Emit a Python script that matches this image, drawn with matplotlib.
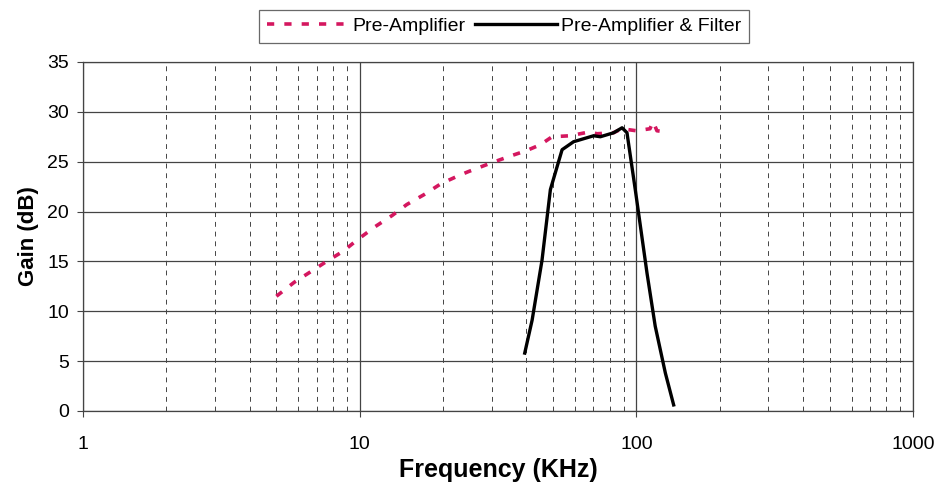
import numpy as np
import matplotlib.pyplot as plt
from matplotlib.ticker import FixedLocator, NullFormatter

plt.rcParams['font.family'] = ['Liberation Sans', 'DejaVu Sans']

# Pre-Amplifier (dashed pink)
f_pre = [5.0, 5.8, 6.6, 7.6, 8.7, 9.85, 11.4, 13.1, 14.8, 17.1, 19.7, 22.8, 24.7,
         29.4, 34.5, 40, 45, 49.6, 57.7, 68, 72, 82.6, 88.7, 100, 112, 115, 118.7, 127]
g_pre = [11.5, 12.9, 13.9, 15.0, 16.0, 17.2, 18.5, 19.6, 20.7, 21.7, 22.8, 23.6, 24.0,
         24.8, 25.5, 26.1, 26.7, 27.5, 27.6, 28.0, 27.8, 27.9, 28.3, 28.1, 28.3, 29.0, 28.1, 28.0]

# Pre-Amplifier & Filter (solid black)
f_filt = [39.5, 42, 45.6, 48.9, 53.9, 59.3, 70.1, 74.1, 82.8, 88.8, 92.5, 99.1,
          109.3, 117, 127.3, 136.4]
g_filt = [5.8, 9.1, 15.1, 22.2, 26.2, 27.0, 27.6, 27.5, 27.9, 28.4, 27.9, 22.2,
          13.8, 8.5, 3.8, 0.6]

y_ticks = [0, 5, 10, 15, 20, 25, 30, 35]
x_ticks = [1, 10, 100, 1000]

fig = plt.figure(figsize=(9.4, 4.88), dpi=100)
ax = fig.add_axes([0.0883, 0.158, 0.883, 0.715])

ax.set_xscale('log')
ax.set_xlim(1, 1000)
ax.set_ylim(0, 35)

# grid
ax.set_yticks(y_ticks)
ax.set_xticks(x_ticks)
ax.set_xticklabels([str(t) for t in x_ticks])
minors = [m * 10 ** d for d in range(3) for m in range(2, 10)]
ax.xaxis.set_minor_locator(FixedLocator(minors))
ax.xaxis.set_minor_formatter(NullFormatter())
ax.tick_params(axis='x', which='minor', length=0)
ax.tick_params(axis='both', which='major', labelsize=14, length=4, width=0.8, color='#444444')
ax.tick_params(axis='x', which='major', pad=14)
ax.tick_params(axis='y', which='major', pad=6)
ax.grid(axis='y', which='major', color='#444444', linewidth=0.9, linestyle='-')
ax.grid(axis='x', which='major', color='#444444', linewidth=0.9, linestyle='-')
ax.grid(axis='x', which='minor', color='#444444', linewidth=0.7, linestyle=(0, (5, 5)))
for s in ax.spines.values():
    s.set_color('#444444')
    s.set_linewidth(0.9)

ax.plot(f_pre, g_pre, color='#d4175f', linewidth=2.6, linestyle=(0, (2.0, 2.8)),
        label='Pre-Amplifier', zorder=3)
ax.plot(f_filt, g_filt, color='black', linewidth=2.4, label='Pre-Amplifier & Filter', zorder=4)

ax.set_xlabel('Frequency (KHz)', fontsize=18, fontweight='bold', labelpad=4)
ax.set_ylabel('Gain (dB)', fontsize=16, fontweight='bold', labelpad=6)

leg = ax.legend(loc='lower center', bbox_to_anchor=(0.507, 1.055), ncol=2, frameon=True,
                fancybox=False, edgecolor='#444444', fontsize=14, handlelength=4.2,
                handletextpad=0.2, columnspacing=0.5, borderpad=0.4, borderaxespad=0)
leg.get_frame().set_linewidth(0.9)

fig.savefig('out.png', dpi=100)
